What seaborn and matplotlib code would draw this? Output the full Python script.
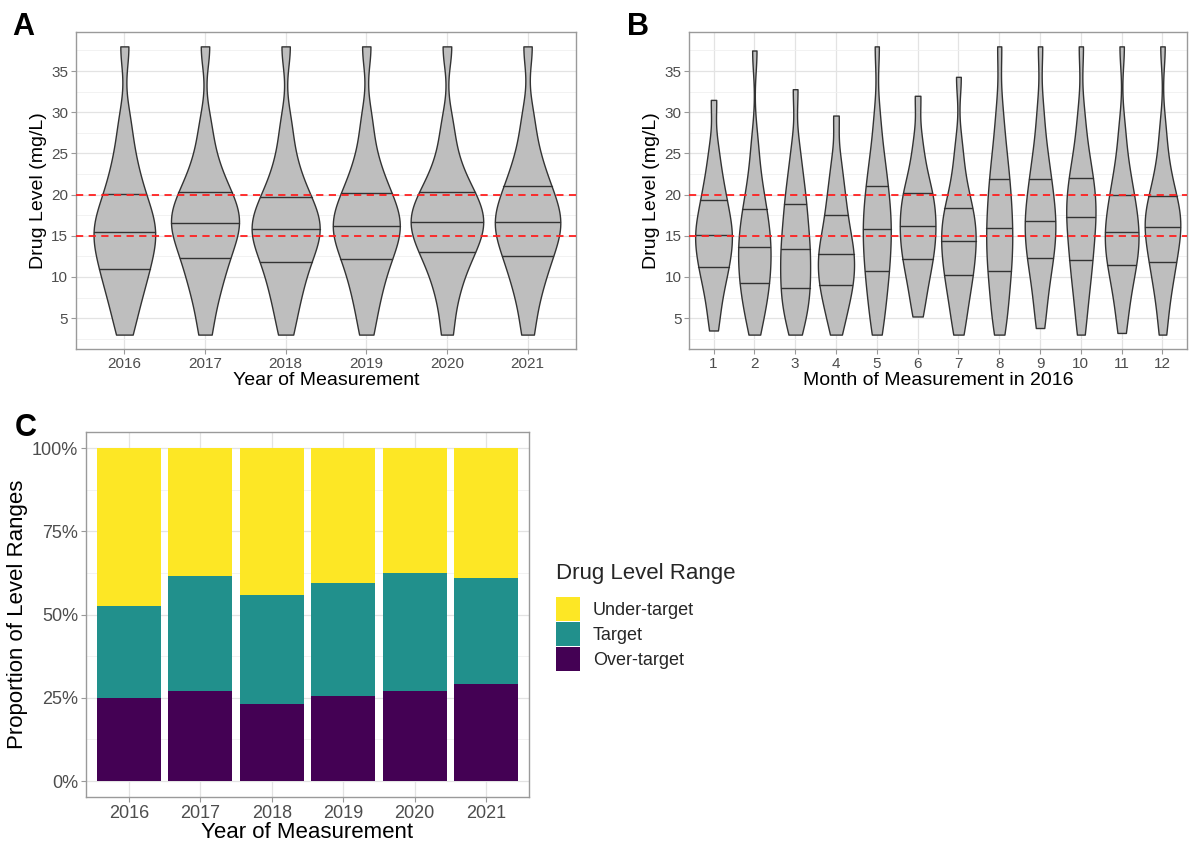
import numpy as np
import pandas as pd
import matplotlib
matplotlib.use("Agg")
import matplotlib.pyplot as plt
import seaborn as sns
from matplotlib.patches import Patch
from matplotlib.ticker import FixedLocator, FuncFormatter

# ---------------- data (estimated 0,5,...,100th percentiles per group) -------------
years = ["2016", "2017", "2018", "2019", "2020", "2021"]
y2016 = [3, 5.5, 7.3, 8.8, 10, 11, 12, 13.1, 14, 14.7, 15.4, 16.2, 17, 17.8, 18.8, 20.1, 21.5, 23.2, 25.5, 29, 38]
y2017 = [3, 6.3, 8.3, 9.9, 11.2, 12.3, 13.4, 14.4, 15.2, 15.9, 16.5, 17.2, 17.9, 18.6, 19.4, 20.3, 21.5, 23, 25, 28.5, 38]
y2018 = [3, 5.8, 7.7, 9.3, 10.6, 11.8, 12.9, 13.8, 14.6, 15.2, 15.8, 16.5, 17.2, 18, 18.8, 19.7, 21, 22.6, 24.8, 28.5, 38]
y2019 = [3, 6, 8, 9.6, 11, 12.2, 13.2, 14.1, 14.9, 15.6, 16.2, 16.9, 17.6, 18.4, 19.3, 20.2, 21.5, 23, 25.2, 29, 38]
y2020 = [3, 6.8, 9, 10.8, 12, 13, 13.9, 14.8, 15.5, 16.1, 16.7, 17.3, 18, 18.7, 19.5, 20.3, 21.4, 22.9, 25, 28.5, 38]
y2021 = [3, 6.5, 8.6, 10.3, 11.5, 12.6, 13.7, 14.6, 15.4, 16.1, 16.7, 17.4, 18.2, 19, 20, 21, 22.3, 23.8, 26, 29.5, 38]

months = ["1", "2", "3", "4", "5", "6", "7", "8", "9", "10", "11", "12"]
m01 = [3.5, 6, 7.8, 9.3, 10.4, 11.2, 12.1, 13, 13.8, 14.5, 15.1, 15.8, 16.5, 17.4, 18.3, 19.3, 20.4, 21.8, 23.5, 26, 31.5]
m02 = [3, 4.8, 6.3, 7.4, 8.4, 9.3, 10.2, 11.1, 12, 12.8, 13.6, 14.4, 15.3, 16.2, 17.2, 18.2, 19.5, 21, 23.2, 26.5, 37.5]
m03 = [3, 4.5, 5.8, 6.9, 7.8, 8.7, 9.6, 10.6, 11.6, 12.5, 13.4, 14.3, 15.3, 16.4, 17.6, 18.8, 20, 21.5, 23.3, 26, 32.8]
m04 = [3, 4.8, 6.2, 7.3, 8.2, 9, 9.8, 10.6, 11.3, 12.1, 12.8, 13.5, 14.3, 15.3, 16.3, 17.5, 18.8, 20.3, 22, 24.5, 29.6]
m05 = [3, 5, 6.8, 8.3, 9.6, 10.7, 11.8, 12.9, 14, 14.9, 15.8, 16.8, 17.8, 18.8, 19.9, 21.1, 22.5, 24, 26, 29.5, 38]
m06 = [5.2, 7.3, 8.9, 10.2, 11.3, 12.2, 13.1, 13.9, 14.7, 15.5, 16.2, 17, 17.8, 18.6, 19.4, 20.2, 21.2, 22.5, 24.2, 26.8, 32]
m07 = [3, 5, 6.7, 8.1, 9.2, 10.2, 11.1, 12, 12.9, 13.7, 14.4, 15.2, 16, 16.8, 17.6, 18.4, 19.5, 21, 23, 26, 34.3]
m08 = [3, 4.8, 6.5, 8.1, 9.5, 10.7, 11.8, 12.9, 14, 15, 16, 17.1, 18.2, 19.4, 20.6, 21.9, 23.3, 25, 27.2, 30.5, 38]
m09 = [3.8, 6.3, 8.3, 10, 11.3, 12.3, 13.3, 14.3, 15.2, 16, 16.8, 17.7, 18.6, 19.6, 20.7, 21.9, 23.2, 24.8, 27, 30.5, 38]
m10 = [3, 5.8, 7.8, 9.5, 10.9, 12, 13.2, 14.4, 15.5, 16.4, 17.3, 18.2, 19.1, 20, 21, 22, 23.2, 24.7, 26.8, 30, 38]
m11 = [3.2, 5.8, 7.7, 9.2, 10.4, 11.4, 12.3, 13.1, 13.9, 14.7, 15.4, 16.2, 17, 17.9, 18.9, 19.9, 21.1, 22.6, 24.6, 28, 38]
m12 = [3, 6, 8, 9.6, 10.8, 11.8, 12.8, 13.8, 14.6, 15.4, 16.1, 16.8, 17.4, 18.1, 18.9, 19.8, 21, 22.5, 24.5, 28, 38]

target_lines = [15, 20]

range_levels = ["Under-target", "Target", "Over-target"]
prop_over = [0.25, 0.27, 0.23, 0.255, 0.27, 0.29]
prop_target = [0.275, 0.345, 0.33, 0.34, 0.355, 0.32]
prop_under = [0.475, 0.385, 0.44, 0.405, 0.375, 0.39]
range_colors = ["#FDE725", "#21908C", "#440154"]

# ---------------- style ----------------
sns.set_theme(style="white")
plt.rcParams['font.family'] = ['Liberation Sans', 'DejaVu Sans']

GRID_MAJ = "#e3e3e3"
GRID_MIN = "#f0f0f0"
BORDER = "#9a9a9a"
TICKLAB = "#4d4d4d"

fig = plt.figure(figsize=(11.89, 8.41), dpi=100)
axA = fig.add_axes([0.0639, 0.585, 0.4205, 0.377])
axB = fig.add_axes([0.5795, 0.585, 0.4188, 0.377])
axC = fig.add_axes([0.0723, 0.0523, 0.3726, 0.434])


def style_axes(ax, tick_fs):
    for sp in ax.spines.values():
        sp.set_visible(True)
        sp.set_color(BORDER)
        sp.set_linewidth(1.0)
    ax.tick_params(axis="both", which="major", length=3.5, width=0.8, color=BORDER,
                   labelsize=tick_fs, labelcolor=TICKLAB, pad=2, bottom=True, left=True)
    ax.tick_params(axis="both", which="minor", length=0)
    ax.grid(True, which="major", color=GRID_MAJ, linewidth=0.9)
    ax.grid(True, which="minor", axis="y", color=GRID_MIN, linewidth=0.6)
    ax.set_axisbelow(True)


def violin_panel(ax, cats, groups, xlabel):
    df = pd.DataFrame({
        "grp": np.repeat(cats, [len(g) for g in groups]),
        "level": np.concatenate([np.asarray(g, float) for g in groups]),
    })
    sns.violinplot(data=df, x="grp", y="level", order=cats, color="#bebebe", saturation=1,
                   linecolor="#333333", linewidth=1.0, cut=0, inner="quart",
                   inner_kws=dict(color="#333333", linewidth=1.0),
                   width=0.9, density_norm="area", bw_adjust=0.6, ax=ax)
    for ln in ax.lines:
        ln.set_linestyle("-")
    for v in target_lines:
        ax.axhline(v, color="#ff2020", linewidth=1.3, linestyle=(0, (4, 3)), zorder=5)
    ax.set_xlim(-0.6, len(cats) - 0.4)
    ax.set_ylim(1.25, 39.75)
    ax.yaxis.set_major_locator(FixedLocator([5, 10, 15, 20, 25, 30, 35]))
    ax.yaxis.set_minor_locator(FixedLocator([2.5, 7.5, 12.5, 17.5, 22.5, 27.5, 32.5, 37.5]))
    style_axes(ax, 11)
    ax.set_xlabel(xlabel, fontsize=14, color="black", labelpad=1)
    ax.set_ylabel("Drug Level (mg/L)", fontsize=14, color="black", labelpad=3)


violin_panel(axA, years, [y2016, y2017, y2018, y2019, y2020, y2021], "Year of Measurement")
violin_panel(axB, months, [m01, m02, m03, m04, m05, m06, m07, m08, m09, m10, m11, m12],
             "Month of Measurement in 2016")

# ---------------- panel C: stacked proportions ----------------
df_c = pd.DataFrame({"year": years, "over": prop_over, "target": prop_target, "under": prop_under})
df_c["top_target"] = df_c["over"] + df_c["target"]
df_c["top_under"] = df_c["top_target"] + df_c["under"]
for col, colr in [("top_under", range_colors[0]), ("top_target", range_colors[1]), ("over", range_colors[2])]:
    sns.barplot(data=df_c, x="year", y=col, order=years, color=colr, saturation=1,
                width=0.9, linewidth=0, ax=axC)
axC.set_xlim(-0.6, len(years) - 0.4)
axC.set_ylim(-0.048, 1.048)
axC.yaxis.set_major_locator(FixedLocator([0, 0.25, 0.5, 0.75, 1.0]))
axC.yaxis.set_minor_locator(FixedLocator([0.125, 0.375, 0.625, 0.875]))
axC.yaxis.set_major_formatter(FuncFormatter(lambda v, p: f"{int(round(v * 100))}%"))
style_axes(axC, 13)
axC.set_xlabel("Year of Measurement", fontsize=16, color="black", labelpad=0)
axC.set_ylabel("Proportion of Level Ranges", fontsize=16, color="black", labelpad=3)

handles = [Patch(facecolor=c, edgecolor="none") for c in range_colors]
leg = fig.legend(handles, range_levels, title="Drug Level Range", loc="upper left",
                 bbox_to_anchor=(0.457, 0.345), frameon=False, fontsize=13,
                 title_fontsize=16, handlelength=1.35, handleheight=1.65,
                 handletextpad=0.7, labelspacing=0.08, borderpad=0.2)
leg._legend_box.align = "left"
leg._legend_box.sep = 9

# ---------------- panel letters ----------------
fig.text(0.010, 0.958, "A", fontsize=22, fontweight="bold", color="black", va="baseline")
fig.text(0.527, 0.958, "B", fontsize=22, fontweight="bold", color="black", va="baseline")
fig.text(0.012, 0.481, "C", fontsize=22, fontweight="bold", color="black", va="baseline")

fig.savefig("out.png", dpi=100, facecolor="white")
